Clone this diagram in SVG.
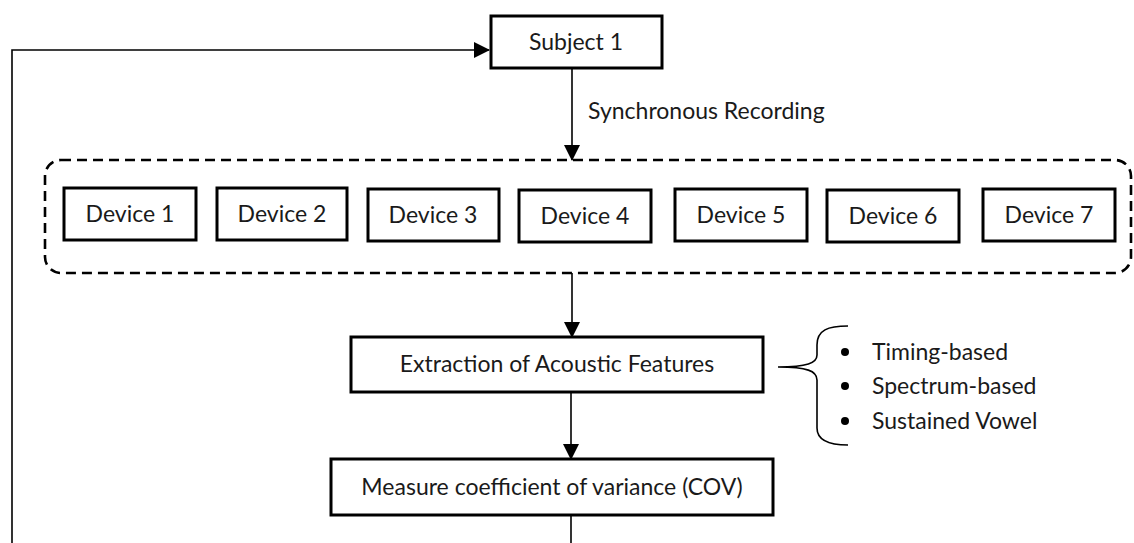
<svg xmlns="http://www.w3.org/2000/svg" width="1134" height="543" viewBox="0 0 1134 543">
<defs>
<marker id="ah" markerUnits="userSpaceOnUse" markerWidth="16" markerHeight="16" viewBox="0 0 16 16" refX="15" refY="8" orient="auto">
<path d="M0,0 L16,8 L0,16 Z" fill="#000"/>
</marker>
<style>
.box{fill:#fff;stroke:#000;stroke-width:3}
.t{font-family:Lato,"Open Sans","Liberation Sans",sans-serif;font-size:23px;fill:#1a1a1a;text-anchor:middle}
.tl{font-family:Lato,"Open Sans","Liberation Sans",sans-serif;font-size:23px;fill:#1a1a1a}
.ln{fill:none;stroke:#000;stroke-width:1.6}
</style>
</defs>
<rect width="1134" height="543" fill="#fff"/>
<g id="connectors">
<path class="ln" d="M12,543 L12,50 L489,50" marker-end="url(#ah)"/>
<path class="ln" d="M572,68 L572,160" marker-end="url(#ah)"/>
<path class="ln" d="M572,273 L572,337" marker-end="url(#ah)"/>
<path class="ln" d="M571,392 L571,459" marker-end="url(#ah)"/>
<path class="ln" d="M571,515 L571,543"/>
<text class="tl" x="588" y="119">Synchronous Recording</text>
</g>
<g id="devices-group">
<rect x="45" y="160" width="1086" height="113" rx="16" fill="none" stroke="#000" stroke-width="2.6" stroke-dasharray="10 6"/>
</g>
<g id="subject1"><rect class="box" x="491" y="16" width="171" height="52"/><text class="t" x="576" y="50">Subject 1</text></g>
<g id="device1"><rect class="box" x="64" y="188" width="132" height="52"/><text class="t" x="130" y="222">Device 1</text></g>
<g id="device2"><rect class="box" x="217" y="188" width="130" height="52"/><text class="t" x="282" y="222">Device 2</text></g>
<g id="device3"><rect class="box" x="368" y="189" width="131" height="52"/><text class="t" x="433" y="223">Device 3</text></g>
<g id="device4"><rect class="box" x="519" y="190" width="132" height="52"/><text class="t" x="585" y="224">Device 4</text></g>
<g id="device5"><rect class="box" x="675" y="189" width="132" height="52"/><text class="t" x="741" y="223">Device 5</text></g>
<g id="device6"><rect class="box" x="827" y="190" width="132" height="52"/><text class="t" x="893" y="224">Device 6</text></g>
<g id="device7"><rect class="box" x="983" y="189" width="132" height="52"/><text class="t" x="1049" y="223">Device 7</text></g>
<g id="extraction"><rect class="box" x="351" y="337" width="412" height="55"/><text class="t" x="557" y="372">Extraction of Acoustic Features</text></g>
<g id="cov"><rect class="box" x="331" y="459" width="442" height="56"/><text class="t" x="552" y="495">Measure coefficient of variance (COV)</text></g>
<g id="features">
<path class="ln" d="M848,326 C828,326 817,330 817,345 L817,355 C817,363 807,367 778,367 C807,367 817,371 817,380 L817,428 C817,440 828,445 848,445"/>
<circle cx="845" cy="352" r="4"/>
<circle cx="845" cy="386" r="4"/>
<circle cx="845" cy="421" r="4"/>
<text class="tl" x="872" y="360">Timing-based</text>
<text class="tl" x="872" y="394">Spectrum-based</text>
<text class="tl" x="872" y="429">Sustained Vowel</text>
</g>
</svg>
